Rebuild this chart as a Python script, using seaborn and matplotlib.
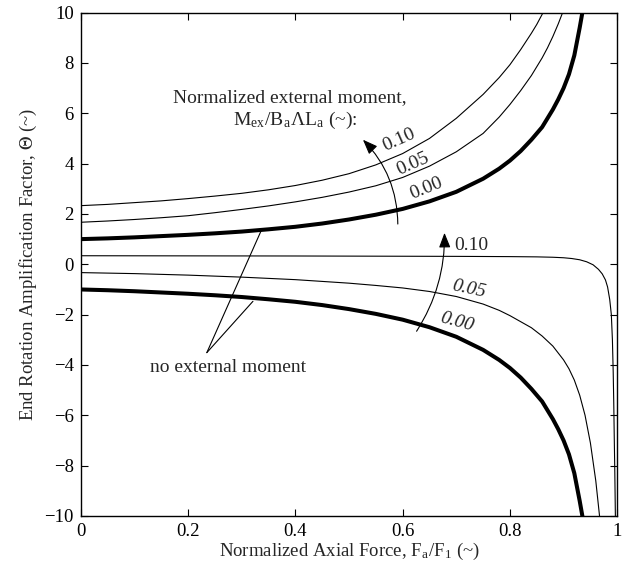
import numpy as np
import pandas as pd
import matplotlib
matplotlib.use("Agg")
import matplotlib.pyplot as plt
import seaborn as sns

sns.set_style("ticks")
plt.rcParams['font.family'] = ['Liberation Serif', 'DejaVu Serif']
plt.rcParams['mathtext.fontset'] = 'stix'

# Values
# upper family (with external moment)
up_x_000 = [0, 0.05, 0.1, 0.15, 0.2, 0.25, 0.3, 0.35, 0.4, 0.45, 0.5, 0.55, 0.6, 0.65, 0.7, 0.75,
            0.78, 0.8, 0.82, 0.84, 0.86, 0.88, 0.89, 0.9, 0.91, 0.92, 0.93, 0.935, 0.94]
up_y_000 = [1.0, 1.03, 1.07, 1.12, 1.17, 1.23, 1.3, 1.39, 1.49, 1.62, 1.78, 1.97, 2.2, 2.5, 2.88, 3.4,
            3.8, 4.12, 4.5, 4.95, 5.45, 6.15, 6.55, 7.0, 7.55, 8.3, 9.4, 10.0, 10.7]
up_x_005 = [0, 0.05, 0.1, 0.15, 0.2, 0.25, 0.3, 0.35, 0.4, 0.45, 0.5, 0.55, 0.6, 0.65, 0.7, 0.75,
            0.78, 0.8, 0.82, 0.84, 0.86, 0.87, 0.88, 0.89, 0.9, 0.91]
up_y_005 = [1.67, 1.72, 1.78, 1.85, 1.93, 2.05, 2.18, 2.32, 2.48, 2.66, 2.87, 3.12, 3.45, 3.9, 4.47, 5.2,
            5.85, 6.35, 6.9, 7.5, 8.2, 8.6, 9.05, 9.55, 10.1, 10.7]
up_x_010 = [0, 0.05, 0.1, 0.15, 0.2, 0.25, 0.3, 0.35, 0.4, 0.45, 0.5, 0.55, 0.6, 0.65, 0.7, 0.75,
            0.78, 0.8, 0.82, 0.84, 0.85, 0.86, 0.87, 0.88]
up_y_010 = [2.33, 2.38, 2.45, 2.52, 2.61, 2.71, 2.82, 2.96, 3.13, 3.34, 3.6, 3.95, 4.4, 5.0, 5.8, 6.75,
            7.42, 7.93, 8.53, 9.18, 9.53, 9.93, 10.4, 10.9]

# lower family
lo_x_000 = [0, 0.05, 0.1, 0.15, 0.2, 0.25, 0.3, 0.35, 0.4, 0.45, 0.5, 0.55, 0.6, 0.65, 0.7, 0.75,
            0.78, 0.8, 0.82, 0.84, 0.86, 0.88, 0.89, 0.9, 0.91, 0.92, 0.93, 0.935, 0.94]
lo_y_000 = [-1.0, -1.03, -1.07, -1.12, -1.17, -1.23, -1.3, -1.39, -1.49, -1.62, -1.78, -1.97, -2.2, -2.5,
            -2.88, -3.4, -3.8, -4.12, -4.5, -4.95, -5.45, -6.15, -6.55, -7.0, -7.55, -8.3, -9.4, -10.0, -10.7]
lo_x_005 = [0, 0.1, 0.2, 0.3, 0.4, 0.45, 0.5, 0.55, 0.6, 0.65, 0.7, 0.75, 0.78, 0.8, 0.82, 0.84, 0.86,
            0.88, 0.9, 0.91, 0.92, 0.93, 0.94, 0.95, 0.96, 0.967, 0.972]
lo_y_005 = [-0.33, -0.37, -0.43, -0.51, -0.61, -0.68, -0.75, -0.84, -0.94, -1.08, -1.28, -1.58, -1.83,
            -2.04, -2.28, -2.52, -2.85, -3.25, -3.8, -4.15, -4.6, -5.2, -6.0, -7.1, -8.6, -10.0, -11.2]
lo_x_010 = [0, 0.2, 0.4, 0.6, 0.7, 0.8, 0.85, 0.88, 0.9, 0.915, 0.93, 0.943, 0.955, 0.965, 0.972,
            0.978, 0.982, 0.986, 0.989, 0.991, 0.9925, 0.9935, 0.9945, 0.9955, 0.9965, 0.998]
lo_y_010 = [0.34, 0.335, 0.33, 0.32, 0.315, 0.305, 0.295, 0.28, 0.26, 0.23, 0.18, 0.1, -0.02, -0.2,
            -0.38, -0.62, -0.9, -1.4, -2.0, -3.0, -4.3, -5.5, -6.95, -8.3, -9.95, -12.0]

curves = [
    (up_x_000, up_y_000, 2.9), (up_x_005, up_y_005, 0.8), (up_x_010, up_y_010, 0.8),
    (lo_x_000, lo_y_000, 2.9), (lo_x_005, lo_y_005, 0.8), (lo_x_010, lo_y_010, 0.8),
]

fig = plt.figure(figsize=(6.26, 5.73), dpi=100)
ax = fig.add_axes([0.129, 0.0995, 0.857, 0.8785])

for xs, ys, lw in curves:
    sns.lineplot(x=xs, y=ys, ax=ax, color='black', linewidth=lw, sort=False)

ax.set_xlim(0, 1)
ax.set_ylim(-10, 10)
ax.set_xticks([0, 0.2, 0.4, 0.6, 0.8, 1])
ax.set_xticklabels(['0', '0.2', '0.4', '0.6', '0.8', '1'])
ax.set_yticks(np.arange(-10, 11, 2))
ax.tick_params(direction='in', top=True, right=True, length=5, width=0.8,
               labelsize=13.5, colors='black', pad=5)
for s in ax.spines.values():
    s.set_linewidth(1.0)
    s.set_color('black')

ax.set_xlabel(r'Normalized Axial Force, F$_\mathregular{a}$/F$_\mathregular{1}$ (~)', fontsize=13.5, labelpad=1)
ax.set_ylabel(r'End Rotation Amplification Factor, $\Theta$ (~)', fontsize=13.5, labelpad=4)

# annotations
ax.text(0.39, 6.63, 'Normalized external moment,', fontsize=14, ha='center', va='center')
ax.text(0.40, 5.7, r'M$_\mathregular{ex}$/B$_\mathregular{a}$ΛL$_\mathregular{a}$ (~):', fontsize=14,
        ha='center', va='center')

ax.annotate('', xy=(0.526, 4.95), xytext=(0.591, 1.6),
            arrowprops=dict(arrowstyle='-|>,head_length=0.9,head_width=0.35', color='black',
                            lw=0.8, connectionstyle='arc3,rad=0.2', shrinkA=0, shrinkB=0))
ax.text(0.594, 4.95, '0.10', fontsize=14, rotation=24, ha='center', va='center')
ax.text(0.619, 4.0, '0.05', fontsize=14, rotation=24, ha='center', va='center')
ax.text(0.645, 3.02, '0.00', fontsize=14, rotation=22, ha='center', va='center')

ax.annotate('', xy=(0.678, 1.25), xytext=(0.626, -2.66),
            arrowprops=dict(arrowstyle='-|>,head_length=0.9,head_width=0.35', color='black',
                            lw=0.8, connectionstyle='arc3,rad=0.15', shrinkA=0, shrinkB=0))
ax.text(0.728, 0.73, '0.10', fontsize=14, ha='center', va='center')
ax.text(0.724, -1.0, '0.05', fontsize=14, rotation=-12, ha='center', va='center', style='italic')
ax.text(0.702, -2.3, '0.00', fontsize=14, rotation=-15, ha='center', va='center', style='italic')

ax.text(0.275, -4.1, 'no external moment', fontsize=14, ha='center', va='center')
ax.plot([0.235, 0.337], [-3.51, 1.37], color='black', lw=0.8)
ax.plot([0.235, 0.321], [-3.51, -1.47], color='black', lw=0.8)

fig.savefig('out.png', dpi=100)
